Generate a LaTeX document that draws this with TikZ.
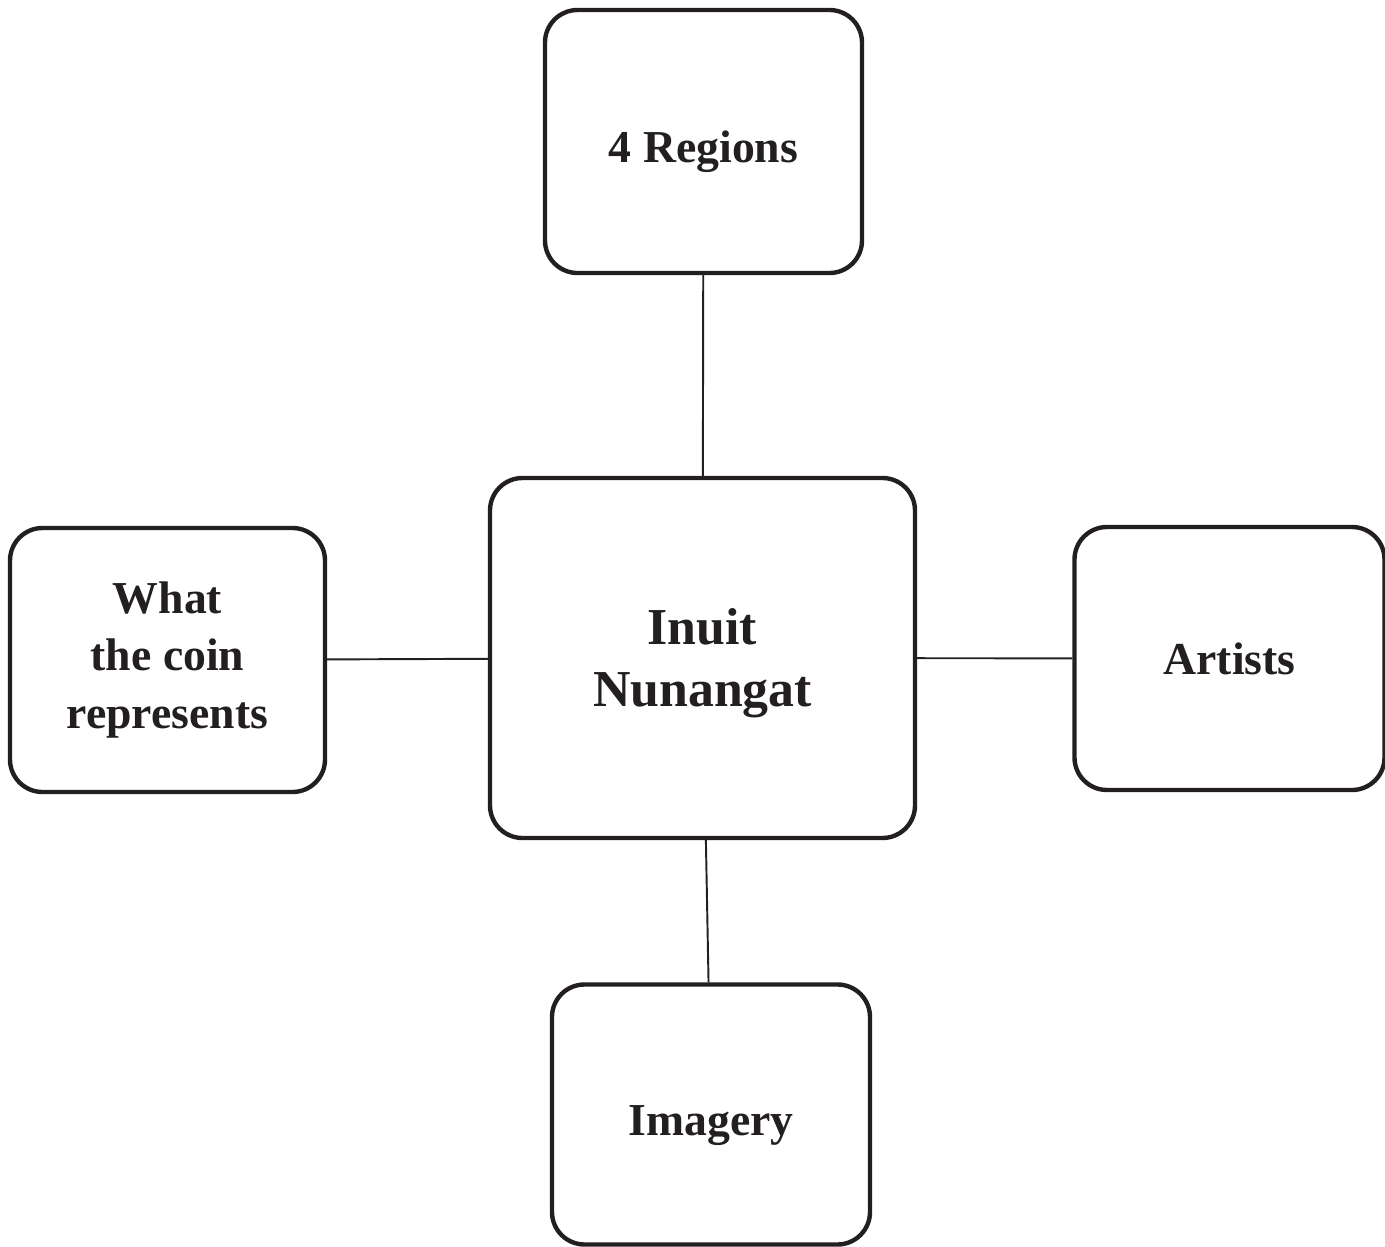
\documentclass[tikz,border=0pt]{standalone}
\usepackage{fontspec}
\setmainfont{Liberation Serif}
\usepackage{tikz}
\usepackage{xcolor}
\definecolor{ink}{HTML}{231F20}

\begin{document}
\begin{tikzpicture}[box/.style={draw=ink, line width=2.5pt, rounded corners=0.65cm, align=center, inner sep=0pt,
        font=\bfseries\fontsize{26}{33}\selectfont, text=ink}]
    \useasboundingbox (0,0) rectangle (27.7,-24.94);

    \node[box, minimum width=8.5cm, minimum height=7.2cm, font=\bfseries\fontsize{29.5}{35}\selectfont] (hub) at (14.05,-13.16) {\rule{0pt}{0.92cm}Inuit\\Nunangat};
    \node[box, minimum width=6.34cm, minimum height=5.26cm, text height=1.03cm, text depth=0.2cm] (regions) at (14.07,-2.83) {4 Regions};
    \node[box, minimum width=6.3cm, minimum height=5.28cm] (coin) at (3.35,-13.2) {What\\the coin\\represents};
    \node[box, minimum width=6.2cm, minimum height=5.26cm] (artists) at (24.59,-13.17) {Artists};
    \node[box, minimum width=6.36cm, minimum height=5.2cm, text height=1.03cm, text depth=0.2cm] (imagery) at (14.22,-22.29) {Imagery};

    \draw[draw=ink, line width=1.1pt] (regions) -- (hub);
    \draw[draw=ink, line width=1.1pt] (coin) -- (hub);
    \draw[draw=ink, line width=1.1pt] (hub) -- (artists);
    \draw[draw=ink, line width=1.1pt] (hub) -- (imagery);
\end{tikzpicture}
\end{document}
